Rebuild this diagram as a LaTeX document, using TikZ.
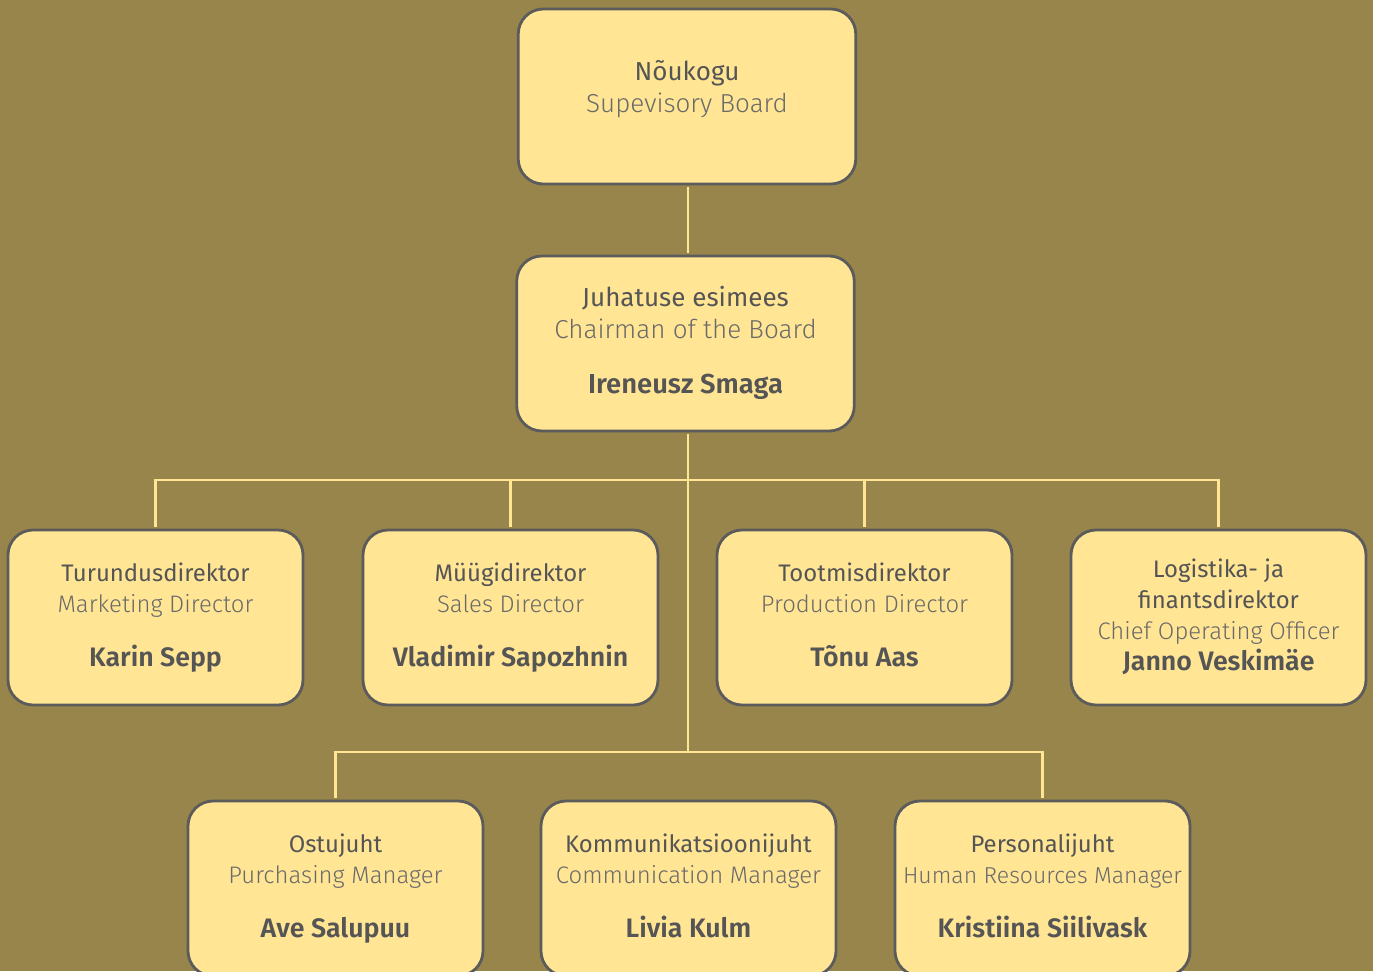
\documentclass[tikz,border=0pt]{standalone}
\usepackage{fontspec}
\setmainfont{Fira Sans}
\newfontfamily\lightfont{Fira Sans Light}
\newfontfamily\namefont{Fira Sans SemiBold}
\definecolor{olive}{HTML}{98854C}
\definecolor{boxfill}{HTML}{FFE594}
\definecolor{boxline}{HTML}{5B5B5B}
\definecolor{txt}{HTML}{555555}
\definecolor{txtlight}{HTML}{6A6A6A}
\newcommand{\post}[5][15.2]{\strut{\color{txt}#2}\\\strut{\lightfont\color{txtlight}#3}\\[#5]%
  \strut{\namefont\fontsize{#1}{17.6}\selectfont\color{txt}#4}}
\begin{document}
\begin{tikzpicture}[x=0.2mm, y=-0.2mm,
    box/.style={draw=boxline, line width=1.6pt, fill=boxfill, rounded corners=5mm,
      minimum width=59mm, minimum height=35mm, inner sep=0pt, align=center,
      font=\fontsize{13.6}{17.6}\selectfont},
    bigbox/.style={box, minimum width=67.5mm, font=\fontsize{14.8}{18.2}\selectfont},
    link/.style={draw=boxfill, line width=1.2pt}]
  % background
  \useasboundingbox (0,0) rectangle (1373,971);
  \fill[olive] (0,0) rectangle (1373,971);
  % top of the tree
  \node[bigbox] (board) at (687,96.5)
    {\strut{\color{txt}Nõukogu}\\\strut{\lightfont\color{txtlight}Supevisory Board}\\[-10.5pt]\strut};
  \node[bigbox] (chair) at (685.5,343.5)
    {\post[15.6]{Juhatuse esimees}{Chairman of the Board}{Ireneusz Smaga}{13pt}};
  % directors
  \node[box] (mkt) at (155.5,617.5)
    {\post{Turundusdirektor}{Marketing Director}{Karin Sepp}{13pt}};
  \node[box] (sales) at (510.5,617.5)
    {\post{Müügidirektor}{Sales Director}{Vladimir Sapozhnin}{13pt}};
  \node[box] (prod) at (864.5,617.5)
    {\post{Tootmisdirektor}{Production Director}{Tõnu Aas}{13pt}};
  \node[box] (coo) at (1218.5,617.5)
    {\strut{\color{txt}Logistika- ja}\\\strut{\color{txt}finantsdirektor}\\\strut{\lightfont\color{txtlight}Chief Operating Officer}\\
     \strut{\namefont\fontsize{15.2}{17.6}\selectfont\color{txt}Janno Veskimäe}};
  % managers
  \node[box] (purch) at (335.5,888.5)
    {\post{Ostujuht}{Purchasing Manager}{Ave Salupuu}{13pt}};
  \node[box] (comm) at (688.5,888.5)
    {\post{Kommunikatsioonijuht}{Communication Manager}{Livia Kulm}{13pt}};
  \node[box] (hr) at (1042.5,888.5)
    {\post{Personalijuht}{\fontsize{13.1}{17.6}\selectfont Human Resources Manager}{Kristiina Siilivask}{13pt}};
  % connectors
  \coordinate (j1) at (688,480);
  \coordinate (j2) at (688,752);
  \draw[link, shorten <=0.8pt, shorten >=0.8pt] (board.south -| j1) -- (chair.north -| j1);
  \draw[link, shorten <=0.8pt] (chair.south -| j1) -- (j2);
  \draw[link, shorten <=0.8pt, shorten >=0.8pt] (mkt.north) |- (j1) -| (coo.north);
  \draw[link, shorten >=0.8pt] (j1 -| sales.north) -- (sales.north);
  \draw[link, shorten >=0.8pt] (j1 -| prod.north) -- (prod.north);
  \draw[link, shorten <=0.8pt, shorten >=0.8pt] (purch.north) |- (j2) -| (hr.north);
\end{tikzpicture}
\end{document}
